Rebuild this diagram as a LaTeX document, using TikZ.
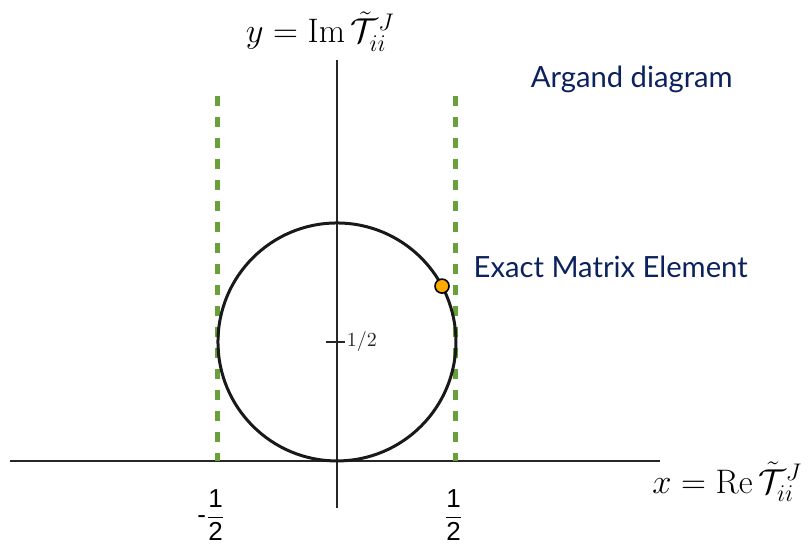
\documentclass[tikz,border=0pt]{standalone}
\usepackage{amsmath}
\usepackage{fontspec}
\usetikzlibrary{calc}
\newfontfamily\labelfont{Lato}
\newfontfamily\helv{Liberation Sans}
\definecolor{navy}{RGB}{12,34,94}
\definecolor{boundgreen}{RGB}{106,160,58}
\definecolor{dotorange}{RGB}{255,170,0}
\newcommand{\sfhalf}{\ensuremath{\displaystyle\frac{\text{\helv 1}}{\text{\helv 2}}}}

\begin{document}
\begin{tikzpicture}[x=119pt,y=119pt,
    axis/.style={line width=0.8pt, black!85},
    bound/.style={boundgreen, line width=2.5pt, dash pattern=on 5pt off 5.5pt},
    caption/.style={text=navy, font=\labelfont\fontsize{14.6}{17}\selectfont},
    axislabel/.style={font=\fontsize{17}{20}\selectfont},
    fraclabel/.style={font=\helv\fontsize{13}{15}\selectfont, inner sep=0pt}]
  \useasboundingbox (-1.416,-0.361) rectangle (1.992,1.937);
  % axes
  \coordinate (xl) at (-1.374,0); \coordinate (xr) at (1.357,0);
  \coordinate (yb) at (0,-0.197); \coordinate (yt) at (0,1.685);
  \draw[axis] (xl) -- (xr);
  \draw[axis] (yb) -- (yt);
  \node[axislabel, anchor=south] (ylab) at (-0.07,1.69) {$y = \mathrm{Im}\,\tilde{\mathcal{T}}^{J}_{ii}$};
  \node[axislabel] (xlab) at (1.64,-0.088) {$x = \mathrm{Re}\,\tilde{\mathcal{T}}^{J}_{ii}$};
  % bounds at Re = -1/2 and 1/2
  \foreach \s/\n/\m in {-0.5/lo/-, 0.5/hi/}{
    \coordinate (\n top) at (\s,1.534); \coordinate (\n bot) at (\s,0);
    \draw[bound] (\n top) -- (\n bot);
    \node[fraclabel] (\n lab) at (\s-0.01,-0.227) {\llap{\m}\sfhalf};
  }
  % unitarity circle
  \coordinate (c) at (0,0.5);
  \draw[line width=1.5pt, black!90] (c) circle[radius=0.5];
  \coordinate (tl) at (-0.046,0.5); \coordinate (tr) at (0.034,0.5);
  \draw[axis] (tl) -- (tr) node[right, inner sep=0.5pt, font=\fontsize{10}{12}\selectfont] (half) {$1/2$};
  \node[circle, draw=black, line width=0.8pt, fill=dotorange, minimum size=7pt, inner sep=0pt] (exact) at ($(c)+(28:0.5)$) {};
  % captions
  \node[caption] (argand) at (1.239,1.605) {Argand diagram};
  \node[caption, anchor=west] (exactlab) at (0.545,0.815) {Exact Matrix Element};
\end{tikzpicture}
\end{document}
